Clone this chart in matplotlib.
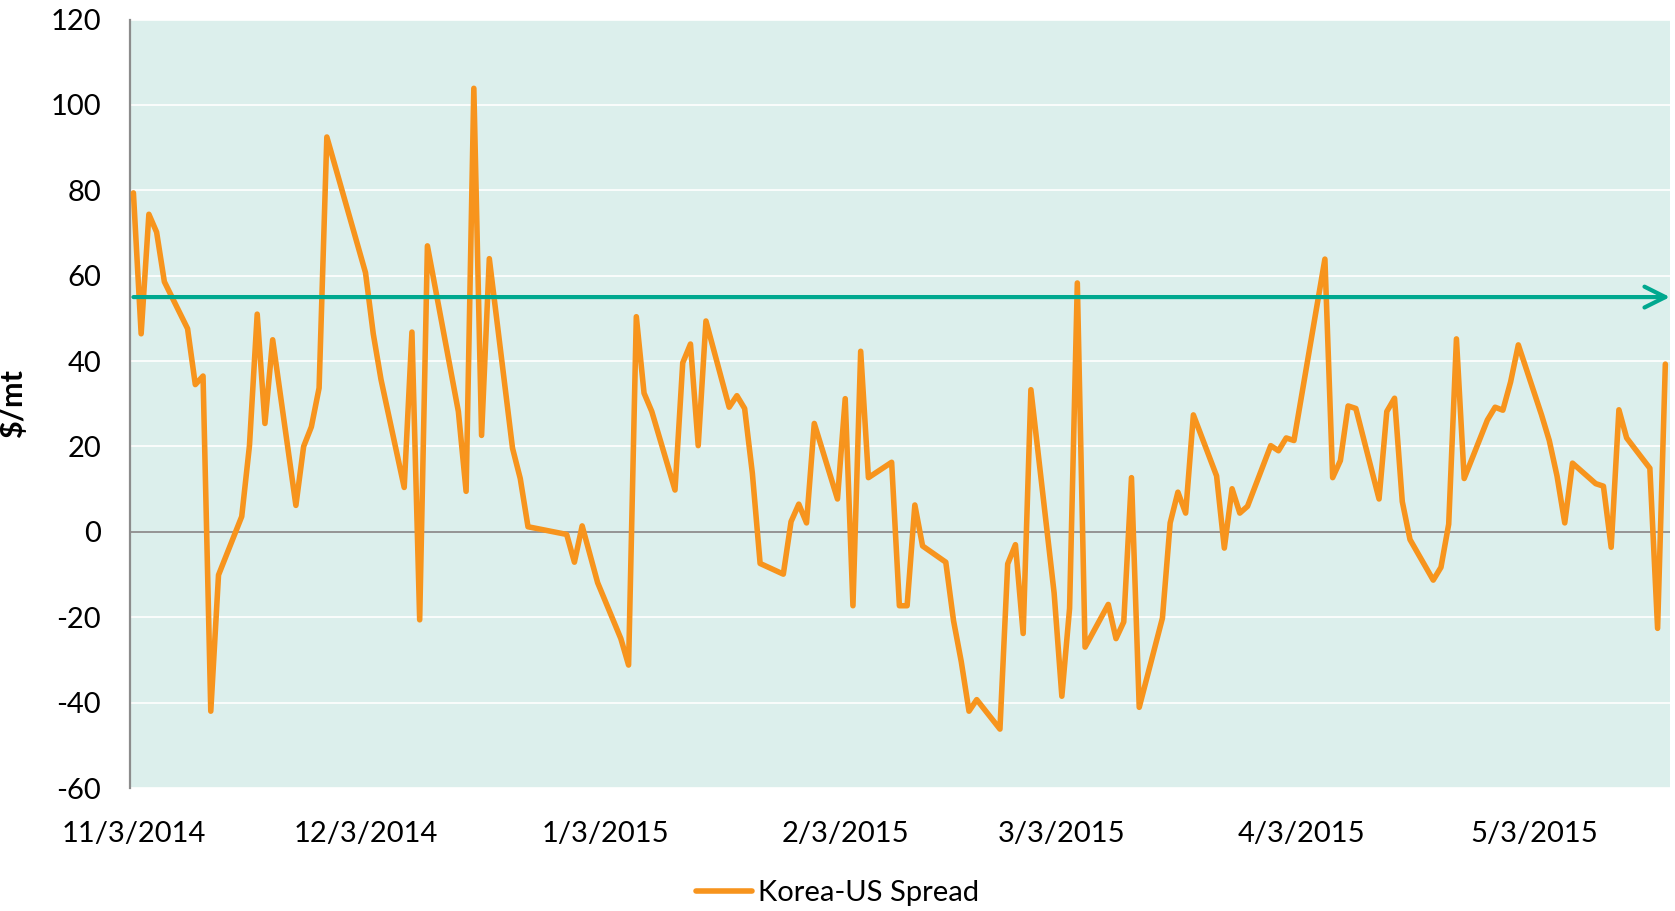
#!/usr/bin/env python3
"""Korea-US spread, daily, Nov 2014 - May 2015."""

import matplotlib
matplotlib.use('Agg')
from matplotlib import pyplot as plt
from matplotlib.patches import ArrowStyle
from matplotlib.transforms import blended_transform_factory
import pandas as pd

START = pd.Timestamp('2014-11-03')

# trading days, counted from 11/3/2014
day_offsets = [
    0, 1, 2, 3, 4, 7, 8, 9, 10, 11, 14, 15, 16, 17, 18, 21, 22, 23, 24, 25,
    30, 31, 32, 35, 36, 37, 38, 42, 43, 44, 45, 46, 49, 50, 51,
    56, 57, 58, 60, 63, 64, 65, 66, 67, 70, 71, 72, 73, 74,
    77, 78, 79, 80, 81, 84, 85, 86, 87, 88, 91, 92, 93, 94, 95,
    98, 99, 100, 101, 102, 105, 106, 107, 108, 109, 112, 113, 114, 115, 116,
    119, 120, 121, 122, 123, 126, 127, 128, 129, 130, 133, 134, 135, 136, 137,
    140, 141, 142, 143, 144, 147, 148, 149, 150, 154, 155, 156, 157, 158,
    161, 162, 163, 164, 165, 168, 169, 170, 171, 172, 175, 176, 177, 178, 179,
    182, 183, 184, 185, 186, 189, 190, 191, 192, 193, 196, 197, 198,
]
spread = [
    79.4, 46.4, 74.4, 70.2, 58.6, 47.6, 34.5, 36.5, -42.0, -10.1,
    3.6, 20.2, 51.0, 25.4, 45.0, 6.2, 20.0, 24.6, 33.7, 92.5,
    60.7, 46.4, 35.7, 10.4, 46.8, -20.6, 67.0, 28.2, 9.5, 103.9, 22.6, 64.0,
    19.6, 12.5, 1.2,
    -0.6, -7.1, 1.4, -11.9, -25.0, -31.2, 50.4, 32.5, 28.2,
    9.8, 39.6, 44.0, 20.2, 49.4,
    29.2, 31.9, 28.9, 13.7, -7.4, -9.9, 2.4, 6.5, 2.1, 25.4,
    7.7, 31.2, -17.3, 42.3, 12.7,
    16.3, -17.3, -17.3, 6.3, -3.3, -7.1, -20.8, -30.4, -42.0, -39.3,
    -46.2, -7.5, -3.0, -23.8, 33.3,
    -14.3, -38.5, -17.9, 58.3, -27.0, -17.0, -25.0, -21.1, 12.7, -41.1,
    -20.2, 2.1, 9.3, 4.4, 27.4,
    13.1, -3.8, 10.1, 4.4, 6.0, 20.2, 19.0, 22.0, 21.4,
    63.9, 12.7, 16.7, 29.5, 28.9,
    7.7, 28.2, 31.3, 7.1, -1.8, -11.3, -8.3, 1.8, 45.2, 12.5,
    26.2, 29.2, 28.5, 35.1, 43.8,
    27.4, 21.4, 13.1, 2.1, 16.1, 11.3, 10.7, -3.6, 28.6, 22.0,
    14.9, -22.6, 39.3,
]
average_level = 55

tick_dates = ['2014-11-03', '2014-12-03', '2015-01-03', '2015-02-03',
              '2015-03-03', '2015-04-03', '2015-05-03']
tick_labels = ['11/3/2014', '12/3/2014', '1/3/2015', '2/3/2015',
               '3/3/2015', '4/3/2015', '5/3/2015']
y_ticks = [-60, -40, -20, 0, 20, 40, 60, 80, 100, 120]


def main():
    plt.rcParams['font.family'] = ['Lato', 'DejaVu Sans']
    plt.rcParams['axes.unicode_minus'] = False
    dates = START + pd.to_timedelta(day_offsets, unit='D')

    fig = plt.figure(figsize=(16.75, 9.11), dpi=100)
    ax = fig.add_axes([0.0778, 0.135, 0.9192, 0.8435])
    ax.set_facecolor('#dcefec')

    ax.set_ylim(-60, 120)
    ax.set_yticks(y_ticks)
    ax.yaxis.grid(True, color='white', linewidth=1.2)
    ax.set_axisbelow(True)
    ax.axhline(0, color='#8c8c8c', linewidth=1.3, zorder=1)

    ax.plot(dates, spread, color='#f7941d', linewidth=4.0,
            solid_joinstyle='round', solid_capstyle='round',
            label='Korea-US Spread', zorder=3)

    # teal average line with open arrowhead at the right edge
    trans = blended_transform_factory(ax.transAxes, ax.transData)
    x0 = (dates[0] - (START - pd.Timedelta(days=0.4))) / pd.Timedelta(days=199)
    ax.annotate('', xy=(1.0, average_level), xycoords=trans,
                xytext=(x0, average_level), textcoords=trans,
                arrowprops=dict(arrowstyle=ArrowStyle('->', head_length=15,
                                                      head_width=7.5),
                                mutation_scale=1, color='#00a88f',
                                linewidth=3.0, shrinkA=0, shrinkB=0,
                                capstyle='round', joinstyle='round'),
                annotation_clip=False, zorder=4)

    ax.set_xlim(START - pd.Timedelta(days=0.4),
                START + pd.Timedelta(days=198.6))
    ax.set_xticks(pd.to_datetime(tick_dates))
    ax.set_xticklabels(tick_labels)

    for side in ['top', 'right', 'bottom']:
        ax.spines[side].set_visible(False)
    ax.spines['left'].set_color('#8c8c8c')
    ax.spines['left'].set_linewidth(1.6)
    ax.tick_params(axis='both', length=0, labelsize=21, colors='black')
    ax.tick_params(axis='y', pad=21)
    ax.tick_params(axis='x', pad=24)

    ax.set_ylabel('$/mt', fontsize=22, fontweight='bold')
    ax.yaxis.set_label_coords(-0.067, 0.5)

    fig.legend(loc='center', bbox_to_anchor=(0.5, 0.02), frameon=False,
               fontsize=21, handlelength=1.9, handletextpad=0.2)

    fig.savefig('out.png', dpi=100)


if __name__ == '__main__':
    main()
